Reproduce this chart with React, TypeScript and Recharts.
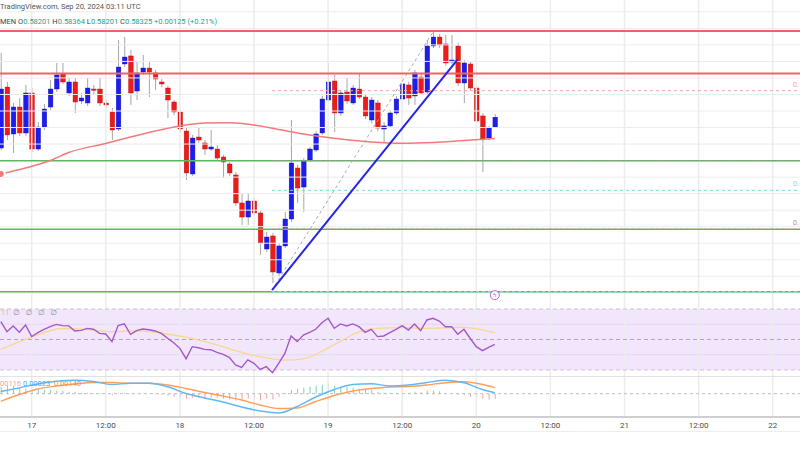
import {
  ComposedChart,
  Bar,
  Line,
  XAxis,
  YAxis,
  ReferenceLine,
  ReferenceArea,
  ReferenceDot,
  Cell,
} from "recharts";

// hourly candles, hour 0 = Sep 17 00:00 UTC
const hours = [
  -5, -4, -3, -2, -1, 0, 1, 2, 3, 4,
  5, 6, 7, 8, 9, 10, 11, 12, 13, 14,
  15, 16, 17, 18, 19, 20, 21, 22, 23, 24,
  25, 26, 27, 28, 29, 30, 31, 32, 33, 34,
  35, 36, 37, 38, 39, 40, 41, 42, 43, 44,
  45, 46, 47, 48, 49, 50, 51, 52, 53, 54,
  55, 56, 57, 58, 59, 60, 61, 62, 63, 64,
  65, 66, 67, 68, 69, 70, 71, 72, 73, 74,
  75,
];

const opens = [
  0.57952, 0.5869, 0.58122, 0.58448, 0.58134, 0.58618, 0.5794, 0.58206, 0.58448, 0.58666,
  0.58848, 0.58618, 0.58751, 0.58521, 0.58497, 0.58666, 0.58666, 0.58497, 0.58388, 0.58182,
  0.58969, 0.59066, 0.58642, 0.58872, 0.5892, 0.5886, 0.58751, 0.58678, 0.58509, 0.58388,
  0.58158, 0.57638, 0.58085, 0.58013, 0.5794, 0.5794, 0.57843, 0.57759, 0.57626, 0.57287,
  0.57117, 0.57311, 0.57166, 0.5673, 0.56888, 0.5644, 0.56767, 0.57093, 0.5771, 0.5748,
  0.57807, 0.57928, 0.58134, 0.58533, 0.58763, 0.58376, 0.5863, 0.58497, 0.58666, 0.58569,
  0.58291, 0.58497, 0.58182, 0.58219, 0.58376, 0.58545, 0.58715, 0.58582, 0.58811, 0.5863,
  0.59187, 0.59295, 0.59211, 0.58993, 0.59187, 0.58739, 0.58969, 0.58678, 0.5834, 0.58073,
  0.58201,
];

const highs = [
  0.59102, 0.58751, 0.58497, 0.58557, 0.58715, 0.58678, 0.58267, 0.58485, 0.58775, 0.58981,
  0.58981, 0.58799, 0.58799, 0.58618, 0.58799, 0.58715, 0.58799, 0.58533, 0.58436, 0.59259,
  0.59295, 0.59138, 0.58993, 0.59078, 0.58993, 0.58896, 0.58787, 0.58703, 0.58533, 0.58412,
  0.58194, 0.5811, 0.58194, 0.58049, 0.5817, 0.57989, 0.57868, 0.57783, 0.57662, 0.57408,
  0.57408, 0.57347, 0.57202, 0.56936, 0.56924, 0.56803, 0.57178, 0.58291, 0.57747, 0.57831,
  0.57964, 0.58158, 0.58582, 0.58981, 0.58836, 0.58654, 0.58799, 0.58715, 0.5886, 0.58594,
  0.58569, 0.58533, 0.58267, 0.58412, 0.58582, 0.58775, 0.58751, 0.58896, 0.58848, 0.59259,
  0.59356, 0.59332, 0.5932, 0.5932, 0.59223, 0.59017, 0.58993, 0.58703, 0.58376, 0.58219,
  0.58364,
];

const lows = [
  0.57928, 0.58049, 0.57892, 0.58098, 0.58098, 0.57904, 0.57916, 0.5817, 0.58412, 0.5863,
  0.58727, 0.58582, 0.58376, 0.58485, 0.58461, 0.58606, 0.58461, 0.58436, 0.58049, 0.58158,
  0.58932, 0.58473, 0.58533, 0.58836, 0.58569, 0.58654, 0.5869, 0.58315, 0.58352, 0.58146,
  0.57565, 0.57614, 0.58013, 0.57868, 0.57916, 0.57795, 0.57589, 0.57614, 0.57251, 0.57021,
  0.57021, 0.5713, 0.56658, 0.56694, 0.56319, 0.56404, 0.56742, 0.57057, 0.57287, 0.57178,
  0.57783, 0.57904, 0.5811, 0.58509, 0.58146, 0.5834, 0.58485, 0.58473, 0.58545, 0.58303,
  0.58255, 0.58158, 0.58013, 0.58194, 0.58352, 0.58521, 0.58473, 0.58473, 0.58594, 0.58606,
  0.59162, 0.59162, 0.58945, 0.58969, 0.58703, 0.58497, 0.58654, 0.58255, 0.57662, 0.58049,
  0.58201,
];

const closes = [
  0.58666, 0.5811, 0.58448, 0.58134, 0.58618, 0.5794, 0.58206, 0.58424, 0.58666, 0.58836,
  0.58751, 0.58751, 0.58509, 0.58557, 0.58678, 0.58654, 0.58497, 0.58473, 0.5817, 0.58932,
  0.59053, 0.58618, 0.5886, 0.5892, 0.58872, 0.58787, 0.58727, 0.58533, 0.58388, 0.58182,
  0.5765, 0.58073, 0.58049, 0.5794, 0.57964, 0.57831, 0.57783, 0.5765, 0.57287, 0.57117,
  0.57311, 0.57166, 0.56803, 0.56875, 0.56452, 0.56767, 0.57093, 0.57771, 0.57468, 0.57795,
  0.5794, 0.58122, 0.58545, 0.58751, 0.58376, 0.58618, 0.58521, 0.58678, 0.58569, 0.5834,
  0.58533, 0.58194, 0.58219, 0.58376, 0.58545, 0.58727, 0.58557, 0.5886, 0.58618, 0.59187,
  0.59295, 0.59199, 0.58981, 0.59017, 0.58739, 0.58981, 0.58678, 0.58279, 0.58061, 0.58201,
  0.58325,
];

const rsiVals = [
  61.7, 55.1, 58.9, 54.7, 59.5, 51.9, 54.5, 56.7, 58.4, 59.9,
  59.1, 58.9, 55.6, 56.0, 57.3, 56.7, 54.0, 53.6, 48.6, 59.1,
  60.2, 53.4, 55.8, 56.9, 56.4, 55.6, 54.0, 50.8, 47.9, 44.2,
  37.4, 45.3, 44.6, 43.5, 43.3, 41.6, 40.3, 38.3, 33.3, 31.7,
  36.6, 34.4, 30.4, 32.2, 28.2, 34.4, 40.9, 52.3, 48.6, 52.9,
  54.7, 56.7, 61.0, 63.9, 57.3, 60.2, 58.9, 60.2, 58.4, 54.7,
  56.7, 51.9, 52.3, 54.5, 56.7, 59.1, 56.2, 60.2, 55.8, 62.8,
  63.9, 62.1, 58.4, 58.4, 53.4, 56.7, 50.8, 45.3, 42.7, 44.9,
  46.8,
];

const histVals = [
  0.00161, 0.00184, 0.00184, 0.00138, 0.00115, 0.00092, 0.00115, 0.00092, 0.00092, 0.00069,
  0.00069, 0.00046, 0.00046, 0.00023, 0.00023, 0.00012, 0.00012, -0.00012, -0.00035, 0.00012,
  0.00023, 0.00012, 0.00012, 0.00012, 0.00003, -0.00012, -0.00023, -0.00046, -0.00069, -0.00092,
  -0.00115, -0.00092, -0.00092, -0.00115, -0.00092, -0.00092, -0.00115, -0.00138, -0.00161, -0.00161,
  -0.00115, -0.00115, -0.00161, -0.00115, -0.00138, -0.00069, 0.00023, 0.00092, 0.00115, 0.00138,
  0.00161, 0.00184, 0.00207, 0.0023, 0.00184, 0.00161, 0.00161, 0.00138, 0.00115, 0.00092,
  0.00092, 0.00046, 0.00023, 0.00023, 0.00023, 0.00035, 0.00023, 0.00046, 0.00035, 0.00069,
  0.00069, 0.00058, 0.00023, 0.00012, -0.00023, -0.00023, -0.00069, -0.00092, -0.00115, -0.00138,
  -0.00116,
];

// moving average on price (sampled)
const smaHours = [-5, -1, 3, 6, 12, 16, 20, 24, 28, 32, 36, 40, 45, 50, 55, 60, 65, 70, 75];
const smaVals = [
  0.57638, 0.5771, 0.57801, 0.57898, 0.58007, 0.58085, 0.58158, 0.58219, 0.58255, 0.58258,
  0.58231, 0.58176, 0.5811, 0.58061, 0.58025, 0.58009, 0.58019, 0.58043, 0.58067,
];

// RSI smoothing line (sampled)
const rsiMaHours = [-5, 0, 5, 8, 13, 17, 21, 25, 30, 33, 37, 41, 44, 48, 50, 53, 56, 60, 64, 68, 70, 73, 75];
const rsiMaVals = [
  43.5, 51.6, 57.2, 56.8, 55.1, 55.7, 54.1, 51.5, 46.4, 42.7, 38.7, 36.5, 37.3, 44.5, 48.8,
  55.0, 57.3, 57.8, 57.3, 57.8, 58.0, 56.2, 54.5,
];

// MACD and signal (sampled)
const macdHours = [-5, -2, 1, 4, 7, 10, 13, 16, 19, 22, 25, 28, 31, 34, 37, 40, 43, 46, 49, 52, 55, 58, 61, 64, 67, 70, 73, 75];
const macdVals = [
  0.00051, 0.00137, 0.00226, 0.00289, 0.00315, 0.00284, 0.00214, 0.00242, 0.00242, 0.00161,
  0.00005, -0.001, -0.00193, -0.0031, -0.00403, -0.0045, -0.00298, -0.00077, 0.00098, 0.00214,
  0.00231, 0.00179, 0.00203, 0.00261, 0.00315, 0.00256, 0.00098, 0.00023,
];
const signalVals = [
  -0.00177, -0.00019, 0.0011, 0.00179, 0.00226, 0.00261, 0.00261, 0.00242, 0.00242, 0.00203,
  0.00121, 0.00028, -0.00054, -0.00147, -0.00263, -0.00345, -0.00333, -0.00182, -0.00042, 0.00063,
  0.00121, 0.00156, 0.00168, 0.00203, 0.00256, 0.00277, 0.00214, 0.0014,
];

const timeTicks = [0, 12, 24, 36, 48, 60, 72, 84, 96, 108, 120];
const timeLabels = ["17", "12:00", "18", "12:00", "19", "12:00", "20", "12:00", "21", "12:00", "22"];

const priceGrid = [0.562, 0.564, 0.566, 0.568, 0.57, 0.572, 0.574, 0.576, 0.578, 0.58, 0.582, 0.584, 0.586, 0.588, 0.59, 0.592, 0.594, 0.596];
const resistanceLevels = [0.59368, 0.58854];
const supportLevels = [0.57799, 0.56969, 0.56214];

// fib retracement levels (only the start of each price tag is visible at the right edge)
const fibStart = 38.92;
const fibLevels = [
  { value: 0.58646, color: "#f5a3a3", label: "0." },
  { value: 0.57799, color: "#9a9a9a", label: "" },
  { value: 0.5744, color: "#7fdcc6", label: "0." },
  { value: 0.56969, color: "#e07a7a", label: "0." },
  { value: 0.56214, color: "#9fd6ee", label: "" },
];

const trendFrom = { x: 38.92, y: 0.56234 };
const trendTo = { x: 68.99, y: 0.59026 };
const fibDiagonalTo = { x: 64.99, y: 0.59356 };

const X_DOMAIN = [-5.13, 124.42];
const PRICE_DOMAIN = [0.561131, 0.597431];

const candleRows = hours.map((h, i) => ({
  h,
  open: opens[i],
  high: highs[i],
  low: lows[i],
  close: closes[i],
  rsi: rsiVals[i],
  hist: histVals[i],
}));
const smaRows = smaHours.map((h, i) => ({ h, v: smaVals[i] }));
const rsiMaRows = rsiMaHours.map((h, i) => ({ h, v: rsiMaVals[i] }));
const macdRows = macdHours.map((h, i) => ({ h, macd: macdVals[i], signal: signalVals[i] }));

const UP = "#1d1df0";
const DOWN = "#ee1b1b";
const GRID = "#ececec";
const FONT = "Roboto, 'DejaVu Sans', sans-serif";

const Candle = (props: any) => {
  const { x, y, width, height, payload } = props;
  if (x == null || y == null || !payload) return null;
  const top = Math.min(y, y + height);
  const span = Math.abs(height);
  const { open, close, high, low } = payload;
  const k = high === low ? 0 : span / (high - low);
  const bodyTop = top + (high - Math.max(open, close)) * k;
  const bodyH = Math.max(1.2, Math.abs(open - close) * k);
  const cx = x + width / 2;
  const up = close >= open;
  return (
    <g>
      <line x1={cx} x2={cx} y1={top} y2={top + span} stroke="#a6a6a6" strokeWidth={1} />
      <rect
        x={cx - 2.3}
        y={bodyTop}
        width={4.6}
        height={bodyH}
        fill={up ? UP : DOWN}
        stroke={up ? "#1010b0" : "#b01010"}
        strokeWidth={0.4}
      />
    </g>
  );
};

const fibLabel = (text: string, color: string) => (p: any) => {
  const vb = p && p.viewBox;
  if (!vb || !text) return null;
  const right = vb.width != null ? vb.x + vb.width : Math.max(vb.x1, vb.x2);
  const yy = vb.y != null ? vb.y : vb.y1;
  return (
    <text x={right - 7} y={yy - 4} fill={color} fontSize={7} fontFamily={FONT}>
      {text}
    </text>
  );
};

export default function App() {
  const vLines = timeTicks.map((t) => (
    <ReferenceLine key={"v" + t} x={t} stroke={GRID} strokeWidth={1.5} />
  ));

  return (
    <div
      style={{
        position: "fixed",
        left: 0,
        top: 0,
        width: 800,
        height: 450,
        overflow: "hidden",
        background: "#ffffff",
        fontFamily: FONT,
      }}
    >
      {/* price pane */}
      <div style={{ position: "absolute", left: 0, top: 0 }}>
        <ComposedChart width={800} height={300} data={candleRows} margin={{ top: 0, right: 0, bottom: 0, left: 0 }}>
          <XAxis type="number" dataKey="h" domain={X_DOMAIN} hide allowDataOverflow />
          <YAxis type="number" domain={PRICE_DOMAIN} hide allowDataOverflow />
          {priceGrid.map((p) => (
            <ReferenceLine key={"g" + p} y={p} stroke={GRID} strokeWidth={1} />
          ))}
          {vLines}
          {resistanceLevels.map((p) => (
            <ReferenceLine key={"r" + p} y={p} stroke="#f26262" strokeWidth={2} />
          ))}
          {supportLevels.map((p) => (
            <ReferenceLine key={"s" + p} y={p} stroke="#5cb85c" strokeWidth={1.5} />
          ))}
          {fibLevels.map((f) => (
            <ReferenceLine
              key={"f" + f.value}
              segment={[
                { x: fibStart, y: f.value },
                { x: X_DOMAIN[1], y: f.value },
              ]}
              stroke={f.color}
              strokeWidth={1}
              strokeDasharray="3 3"
              label={fibLabel(f.label, f.color)}
            />
          ))}
          <ReferenceLine
            segment={[trendFrom, fibDiagonalTo]}
            stroke="#a8a8a8"
            strokeWidth={1}
            strokeDasharray="3 3"
          />
          <Line
            data={smaRows}
            dataKey="v"
            type="monotone"
            stroke="#f37a7a"
            strokeWidth={1.5}
            dot={false}
            isAnimationActive={false}
          />
          <Bar
            dataKey={(d: any) => [d.low, d.high]}
            barSize={5}
            shape={Candle}
            isAnimationActive={false}
          />
          <ReferenceLine segment={[trendFrom, trendTo]} stroke="#2525e6" strokeWidth={2} />
          <ReferenceDot
            x={75}
            y={0.56172}
            r={4.5}
            fill="#ffffff"
            stroke="#b565d8"
            strokeWidth={1}
            label={{ value: "ϟ", fill: "#b565d8", fontSize: 6, position: "center" }}
          />
        </ComposedChart>
      </div>

      {/* RSI pane */}
      <div style={{ position: "absolute", left: 0, top: 300 }}>
        <ComposedChart width={800} height={77} data={candleRows} margin={{ top: 0, right: 0, bottom: 0, left: 0 }}>
          <XAxis type="number" dataKey="h" domain={X_DOMAIN} hide allowDataOverflow />
          <YAxis type="number" domain={[25.4, 75.9]} hide allowDataOverflow />
          <ReferenceArea y1={30} y2={70} fill="#f2e6fd" fillOpacity={1} stroke="none" />
          <ReferenceLine y={60} stroke="#e4d8ee" />
          <ReferenceLine y={40} stroke="#e4d8ee" />
          {vLines}
          <ReferenceLine y={70} stroke="#cdbfdc" strokeDasharray="4 3" />
          <ReferenceLine y={30} stroke="#cdbfdc" strokeDasharray="4 3" />
          <ReferenceLine y={50} stroke="#b3a5c4" strokeDasharray="4 3" />
          <Line
            data={rsiMaRows}
            dataKey="v"
            type="monotone"
            stroke="#f6d88e"
            strokeWidth={1.3}
            dot={false}
            isAnimationActive={false}
          />
          <Line
            dataKey="rsi"
            type="linear"
            stroke="#a657c9"
            strokeWidth={1.4}
            dot={false}
            isAnimationActive={false}
          />
        </ComposedChart>
      </div>

      {/* MACD pane with time axis */}
      <div style={{ position: "absolute", left: 0, top: 376, width: 800, height: 1, background: "#e2e2e2" }} />
      <div style={{ position: "absolute", left: 0, top: 377 }}>
        <ComposedChart width={800} height={73} data={candleRows} margin={{ top: 0, right: 0, bottom: 0, left: 0 }}>
          <XAxis
            type="number"
            dataKey="h"
            domain={X_DOMAIN}
            allowDataOverflow
            ticks={timeTicks}
            interval={0}
            tickFormatter={(v: number) => timeLabels[timeTicks.indexOf(v)] ?? ""}
            height={33}
            tickLine={false}
            tickSize={3}
            tickMargin={2}
            axisLine={{ stroke: "#cfcfcf", strokeWidth: 2 }}
            tick={{ fontSize: 8, fill: "#4a4a4a" }}
          />
          <YAxis type="number" domain={[-0.00543, 0.00389]} hide allowDataOverflow />
          {vLines}
          <ReferenceLine y={0} stroke="#bdbdbd" strokeDasharray="3 3" />
          <Bar dataKey="hist" barSize={1} isAnimationActive={false}>
            {candleRows.map((r) => (
              <Cell key={"h" + r.h} fill={r.hist >= 0 ? "#7fcfc2" : "#f4a0a0"} />
            ))}
          </Bar>
          <Line
            data={macdRows}
            dataKey="signal"
            type="monotone"
            stroke="#ff9f5a"
            strokeWidth={1.4}
            dot={false}
            isAnimationActive={false}
          />
          <Line
            data={macdRows}
            dataKey="macd"
            type="monotone"
            stroke="#62b8f2"
            strokeWidth={1.4}
            dot={false}
            isAnimationActive={false}
          />
        </ComposedChart>
      </div>
      <div style={{ position: "absolute", left: 0, top: 431, width: 800, height: 1, background: "#ededed" }} />

      {/* overlay texts */}
      <div style={{ position: "absolute", left: 0, top: 2, fontSize: 7.5, color: "#555", whiteSpace: "nowrap" }}>
        TradingView.com, Sep 20, 2024 03:11 UTC
      </div>
      <div style={{ position: "absolute", left: 0, top: 17, fontSize: 7.5, color: "#22a28a", whiteSpace: "nowrap" }}>
        <span style={{ color: "#444" }}>MEN </span>
        <span style={{ color: "#444" }}>O</span>0.58201 <span style={{ color: "#444" }}>H</span>0.58364{" "}
        <span style={{ color: "#444" }}>L</span>0.58201 <span style={{ color: "#444" }}>C</span>0.58325 +0.00125 (+0.21%)
      </div>
      <div style={{ position: "absolute", left: 1, top: 308, fontSize: 7.5, whiteSpace: "nowrap" }}>
        <span style={{ color: "#f2c25a" }}>11</span>
        <span style={{ color: "#888", letterSpacing: 2 }}> ∅ ∅ ∅ ∅</span>
      </div>
      <div style={{ position: "absolute", left: 0, top: 379, fontSize: 7.5, whiteSpace: "nowrap" }}>
        <span style={{ color: "#f4a0a0" }}>00116</span>
        <span style={{ color: "#4aa8ec" }}> 0.00023</span>
        <span style={{ color: "#ff8a3d" }}> &nbsp;0.00140</span>
      </div>
    </div>
  );
}
